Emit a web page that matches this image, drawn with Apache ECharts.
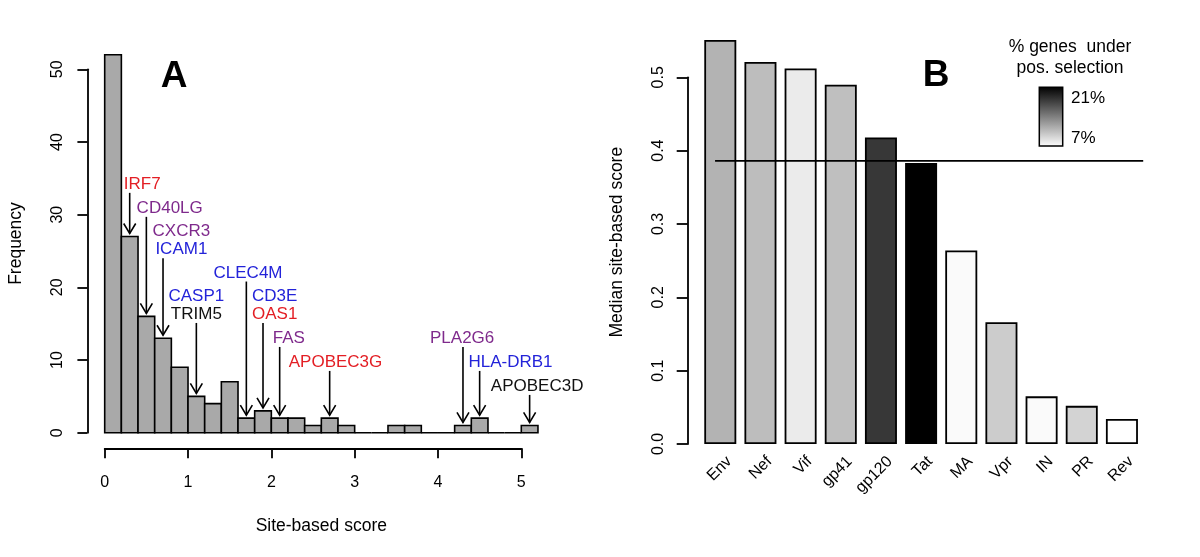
<!DOCTYPE html>
<html>
<head>
<meta charset="utf-8">
<script src="https://cdn.jsdelivr.net/npm/echarts@6/dist/echarts.min.js"></script>
<style>html,body{margin:0;padding:0;background:#fff}#c{width:1200px;height:557px}</style>
</head>
<body>
<div id="c"></div>
<script>
// ---------- Panel A: histogram of site-based scores ----------
const breaks = [0, 0.2, 0.4, 0.6, 0.8, 1.0, 1.2, 1.4, 1.6, 1.8, 2.0, 2.2, 2.4, 2.6, 2.8, 3.0, 3.2, 3.4, 3.6, 3.8, 4.0, 4.2, 4.4, 4.6, 4.8, 5.0, 5.2];
const counts = [52, 27, 16, 13, 9, 5, 4, 7, 2, 3, 2, 2, 1, 2, 1, 0, 0, 1, 1, 0, 0, 1, 2, 0, 0, 1];
const xTicksA = [0, 1, 2, 3, 4, 5];

// annotated genes: score where the arrow points, frequency where the arrow starts, label centre
const annX = [0.3, 0.5, 0.7, 1.1, 1.7, 1.9, 2.1, 2.7, 4.3, 4.5, 5.1];
const annTop = [33.0, 29.7, 24.0, 15.1, 20.8, 15.1, 11.8, 8.5, 11.8, 8.5, 5.2];
const annLabelX = [0.45, 0.78, 0.92, 1.10, 1.72, 2.04, 2.21, 2.77, 4.29, 4.87, 5.19];
const annGenes = [['IRF7'], ['CD40LG'], ['CXCR3', 'ICAM1'], ['CASP1', 'TRIM5'], ['CLEC4M'], ['CD3E', 'OAS1'], ['FAS'], ['APOBEC3G'], ['PLA2G6'], ['HLA-DRB1'], ['APOBEC3D']];
const annGroups = [['red'], ['purple'], ['purple', 'blue'], ['blue', 'black'], ['blue'], ['blue', 'red'], ['purple'], ['red'], ['purple'], ['blue'], ['black']];

// ---------- Panel B: median site-based score per HIV gene ----------
const genes = ['Env', 'Nef', 'Vif', 'gp41', 'gp120', 'Tat', 'MA', 'Vpr', 'IN', 'PR', 'Rev'];
const medianScore = [0.551, 0.521, 0.512, 0.490, 0.418, 0.383, 0.264, 0.166, 0.065, 0.052, 0.034];
const pctPositive = [11.2, 10.6, 8.1, 10.5, 18.0, 21.0, 7.3, 9.8, 7.3, 9.4, 7.0];
const threshold = 0.386;
const yTicksB = [0, 0.1, 0.2, 0.3, 0.4, 0.5];
const legendRange = [7, 21];

const FONT = 'Liberation Sans, Arial, Helvetica, sans-serif';
const groupColor = {red: '#e31e24', purple: '#7f2a8c', blue: '#2323d9', black: '#111111'};
const axisLineStyle = {color: '#000', width: 1.8};

function binCount(x) {
  for (let i = 0; i < counts.length; i++) {
    if (x >= breaks[i] && x < breaks[i + 1]) return counts[i];
  }
  return 0;
}

const chart = echarts.init(document.getElementById('c'), null, {renderer: 'canvas'});

const option = {
  animation: false,
  backgroundColor: '#fff',
  textStyle: {fontFamily: FONT},
  grid: [
    {left: 104.7, top: 69.3, width: 416.6, height: 363.4},
    {left: 700.2, top: 77.3, width: 441.8, height: 366.7}
  ],
  xAxis: [
    {
      gridIndex: 0, type: 'value', position: 'bottom', min: 0, max: 5, interval: 1, offset: 15.6,
      axisLine: {show: true, onZero: false, lineStyle: axisLineStyle},
      axisTick: {show: true, length: 10, lineStyle: axisLineStyle, customValues: xTicksA},
      axisLabel: {fontSize: 16, color: '#000', margin: 26, fontFamily: FONT, customValues: xTicksA},
      splitLine: {show: false},
      name: 'Site-based score', nameLocation: 'middle', nameGap: 69,
      nameTextStyle: {fontSize: 17.5, color: '#000', fontFamily: FONT, padding: [0, 0, 0, 16.6]}
    },
    {
      gridIndex: 1, type: 'value', position: 'bottom', min: -0.5, max: 10.5, show: false,
      axisLine: {onZero: false}
    },
    {
      gridIndex: 1, type: 'value', position: 'bottom', min: -0.5 - 9 / 40.17, max: 10.5 - 9 / 40.17,
      axisLine: {show: false, onZero: false}, axisTick: {show: false}, splitLine: {show: false},
      axisLabel: {
        show: true, rotate: 45, margin: 15, fontSize: 16, color: '#000', fontFamily: FONT,
        customValues: genes.map((g, i) => i),
        formatter: v => genes[Math.round(v)]
      }
    }
  ],
  yAxis: [
    {
      gridIndex: 0, type: 'value', position: 'left', min: 0, max: 50, interval: 10, offset: 17.3,
      axisLine: {show: true, onZero: false, lineStyle: axisLineStyle},
      axisTick: {show: true, length: 10, lineStyle: axisLineStyle},
      axisLabel: {rotate: 90, fontSize: 16, color: '#000', margin: 21.5, fontFamily: FONT},
      splitLine: {show: false},
      name: 'Frequency', nameLocation: 'middle', nameGap: 62,
      nameTextStyle: {fontSize: 17.5, color: '#000', fontFamily: FONT, padding: [0, 0, 0, 15]}
    },
    {
      gridIndex: 1, type: 'value', position: 'left', min: 0, max: 0.5, interval: 0.1, offset: 12.5,
      axisLine: {show: true, onZero: false, lineStyle: axisLineStyle},
      axisTick: {show: true, length: 11, lineStyle: axisLineStyle, customValues: yTicksB},
      axisLabel: {rotate: 90, fontSize: 16, color: '#000', margin: 21.5, fontFamily: FONT,
        customValues: yTicksB, formatter: v => v.toFixed(1)},
      splitLine: {show: false},
      name: 'Median site-based score', nameLocation: 'middle', nameGap: 62,
      nameTextStyle: {fontSize: 17.5, color: '#000', fontFamily: FONT, padding: [0, 0, 0, 37]}
    }
  ],
  visualMap: {
    show: false, type: 'continuous', seriesIndex: 2, dimension: 2,
    min: legendRange[0], max: legendRange[1],
    inRange: {color: ['#ffffff', '#000000']}
  },
  series: [
    {
      type: 'custom', xAxisIndex: 0, yAxisIndex: 0, clip: false, silent: true,
      data: counts.map((c, i) => [breaks[i], breaks[i + 1], c]),
      encode: {x: [0, 1], y: 2},
      renderItem: function (params, api) {
        const p0 = api.coord([api.value(0), api.value(2)]);
        const p1 = api.coord([api.value(1), 0]);
        return {
          type: 'rect',
          shape: {x: p0[0], y: p0[1], width: p1[0] - p0[0], height: p1[1] - p0[1]},
          style: {fill: '#a9a9a9', stroke: '#000', lineWidth: 1.6}
        };
      }
    },
    {
      type: 'custom', xAxisIndex: 0, yAxisIndex: 0, clip: false, silent: true,
      data: annX.map((x, i) => [x, annTop[i], binCount(x), annLabelX[i], i]),
      encode: {x: 0, y: 1},
      renderItem: function (params, api) {
        const idx = api.value(4);
        const top = api.coord([api.value(0), api.value(1)]);
        const tip = api.coord([api.value(0), api.value(2)]);
        const tipY = tip[1] - 3;
        const lab = api.coord([api.value(3), api.value(1)]);
        const children = [
          {type: 'line', shape: {x1: top[0], y1: top[1], x2: top[0], y2: tipY},
            style: {stroke: '#000', lineWidth: 1.6}},
          {type: 'polyline', shape: {points: [[top[0] - 6, tipY - 10], [top[0], tipY], [top[0] + 6, tipY - 10]]},
            style: {stroke: '#000', lineWidth: 1.6, fill: null}}
        ];
        const names = annGenes[idx];
        const cols = annGroups[idx];
        const n = names.length;
        names.forEach((name, k) => {
          children.push({
            type: 'text',
            x: lab[0],
            y: top[1] + 1 - (n - 1 - k) * 18.5,
            style: {text: name, fill: groupColor[cols[k]], fontSize: 17, fontFamily: FONT,
              align: 'center', verticalAlign: 'bottom', lineHeight: 19}
          });
        });
        return {type: 'group', children: children};
      }
    },
    {
      type: 'bar', xAxisIndex: 1, yAxisIndex: 1, clip: false, barWidth: 32,
      data: genes.map((g, i) => [i, medianScore[i], pctPositive[i]]),
      encode: {x: 0, y: 1},
      itemStyle: {borderColor: '#000', borderWidth: 1.8}
    },
    {
      type: 'line', xAxisIndex: 1, yAxisIndex: 1, clip: false, symbol: 'none', z: 5,
      data: [[-0.13, threshold], [10.53, threshold]],
      lineStyle: {color: '#000', width: 1.8}
    }
  ],
  graphic: [
    {type: 'text', x: 174, y: 77, style: {text: 'A', fontSize: 37, fontWeight: 'bold', fontFamily: FONT,
      fill: '#000', align: 'center', verticalAlign: 'middle'}},
    {type: 'text', x: 936, y: 75.5, style: {text: 'B', fontSize: 37, fontWeight: 'bold', fontFamily: FONT,
      fill: '#000', align: 'center', verticalAlign: 'middle'}},
    {type: 'text', x: 1070, y: 47, style: {text: '% genes  under', fontSize: 17.5, fontFamily: FONT,
      fill: '#000', align: 'center', verticalAlign: 'middle'}},
    {type: 'text', x: 1070, y: 68.5, style: {text: 'pos. selection', fontSize: 17.5, fontFamily: FONT,
      fill: '#000', align: 'center', verticalAlign: 'middle'}},
    {type: 'rect', shape: {x: 1039.3, y: 87.3, width: 23.4, height: 58.7},
      style: {fill: new echarts.graphic.LinearGradient(0, 0, 0, 1, [
        {offset: 0, color: '#000000'}, {offset: 1, color: '#ffffff'}]), stroke: '#000', lineWidth: 1.5}},
    {type: 'text', x: 1071, y: 98.5, style: {text: legendRange[1] + '%', fontSize: 17, fontFamily: FONT,
      fill: '#000', align: 'left', verticalAlign: 'middle'}},
    {type: 'text', x: 1071, y: 138.5, style: {text: legendRange[0] + '%', fontSize: 17, fontFamily: FONT,
      fill: '#000', align: 'left', verticalAlign: 'middle'}}
  ]
};
chart.setOption(option);
</script>
</body>
</html>
